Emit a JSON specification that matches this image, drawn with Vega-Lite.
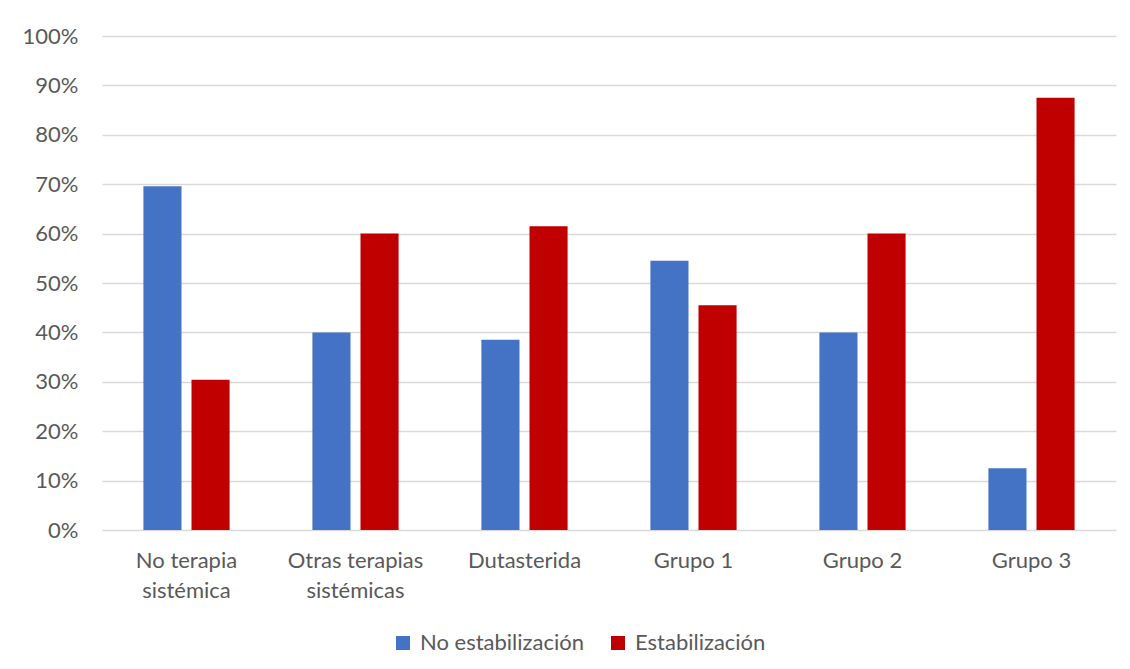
{
  "$schema": "https://vega.github.io/schema/vega-lite/v6.json",
  "width": 1014,
  "height": 494,
  "autosize": "none",
  "padding": {"left": 102, "top": 36, "right": 14, "bottom": 139},
  "background": "white",
  "data": {
    "values": [
      {"grupo": "No terapia sistémica", "serie": "No estabilización", "pct": 0.696},
      {"grupo": "No terapia sistémica", "serie": "Estabilización", "pct": 0.304},
      {"grupo": "Otras terapias sistémicas", "serie": "No estabilización", "pct": 0.40},
      {"grupo": "Otras terapias sistémicas", "serie": "Estabilización", "pct": 0.60},
      {"grupo": "Dutasterida", "serie": "No estabilización", "pct": 0.385},
      {"grupo": "Dutasterida", "serie": "Estabilización", "pct": 0.615},
      {"grupo": "Grupo 1", "serie": "No estabilización", "pct": 0.545},
      {"grupo": "Grupo 1", "serie": "Estabilización", "pct": 0.455},
      {"grupo": "Grupo 2", "serie": "No estabilización", "pct": 0.40},
      {"grupo": "Grupo 2", "serie": "Estabilización", "pct": 0.60},
      {"grupo": "Grupo 3", "serie": "No estabilización", "pct": 0.125},
      {"grupo": "Grupo 3", "serie": "Estabilización", "pct": 0.875}
    ]
  },
  "mark": {"type": "bar"},
  "encoding": {
    "x": {
      "field": "grupo",
      "type": "nominal",
      "sort": null,
      "scale": {"paddingInner": 0.49, "paddingOuter": 0.245},
      "axis": {
        "title": null,
        "labelAngle": 0,
        "ticks": false,
        "domain": false,
        "labelPadding": 20,
        "labelLineHeight": 30,
        "labelOverlap": false,
        "labelExpr": "datum.value == 'No terapia sistémica' ? ['No terapia', 'sistémica'] : datum.value == 'Otras terapias sistémicas' ? ['Otras terapias', 'sistémicas'] : datum.value"
      }
    },
    "xOffset": {
      "field": "serie",
      "type": "nominal",
      "sort": ["No estabilización", "Estabilización"],
      "scale": {"paddingInner": 0.208, "paddingOuter": 0}
    },
    "y": {
      "field": "pct",
      "type": "quantitative",
      "scale": {"domain": [0, 1]},
      "axis": {
        "title": null,
        "format": ".0%",
        "values": [0, 0.1, 0.2, 0.3, 0.4, 0.5, 0.6, 0.7, 0.8, 0.9, 1],
        "labelOverlap": false,
        "ticks": false,
        "domain": false,
        "labelPadding": 24,
        "grid": true,
        "gridColor": "#d9d9d9",
        "gridWidth": 1.5
      }
    },
    "color": {
      "field": "serie",
      "type": "nominal",
      "sort": ["No estabilización", "Estabilización"],
      "scale": {"domain": ["No estabilización", "Estabilización"], "range": ["#4472C4", "#C00000"]},
      "legend": {
        "title": null,
        "orient": "none",
        "direction": "horizontal",
        "legendX": 290,
        "legendY": 596,
        "padding": 0,
        "symbolType": "square",
        "symbolSize": 196,
        "symbolStrokeWidth": 0,
        "labelOffset": 6,
        "columnPadding": 22,
        "labelLimit": 400,
        "labelFontSize": 22,
        "labelColor": "#595959",
        "labelFont": "Lato"
      }
    }
  },
  "config": {
    "view": {"stroke": null},
    "axis": {
      "labelFont": "Lato",
      "labelFontSize": 22,
      "labelColor": "#595959"
    }
  }
}
